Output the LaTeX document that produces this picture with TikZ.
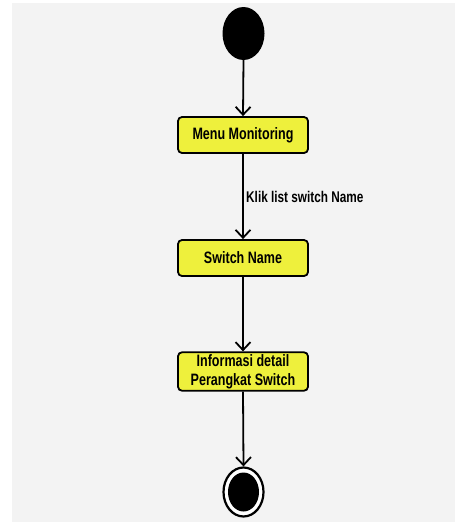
\documentclass[tikz,border=0pt]{standalone}
\usepackage{fontspec}
\setmainfont{Liberation Sans}[FakeStretch=0.76]
\usetikzlibrary{arrows.meta,shapes.geometric}
\definecolor{canvas}{HTML}{F3F3F3}
\definecolor{actfill}{HTML}{EEF03C}
\tikzset{
  activity/.style={draw=black, line width=1.8pt, fill=actfill, rounded corners=4pt,
    minimum width=130pt, minimum height=36pt, inner sep=2pt, align=center,
    font=\fontsize{16.5}{19}\selectfont\bfseries},
  flow/.style={draw=black, line width=1.8pt, -{Straight Barb[length=8pt,width=15pt,line width=1.8pt]}},
  startnode/.style={ellipse, fill=black, minimum width=42pt, minimum height=53pt, inner sep=0pt},
}
\begin{document}
\begin{tikzpicture}[x=1pt,y=-1pt]
  % page and canvas
  \useasboundingbox (0,0) rectangle (457,522);
  \fill[white] (0,0) rectangle (457,522);
  \fill[canvas] (12,3) rectangle (455,522);

  % initial state
  \node[startnode] (start) at (243.5,33.5) {};

  % activities
  \node[activity] (menu) at (243,135) {Menu Monitoring};
  \node[activity] (sw) at (243,258) {Switch Name};
  \node[activity] (info) at (243,371.5) {Informasi detail\\Perangkat Switch};

  % final state
  \node[ellipse, draw=black, line width=2.2pt, fill=white, minimum width=40pt, minimum height=49pt, inner sep=0pt] (end) at (243.5,492) {};
  \node[ellipse, fill=black, minimum width=31pt, minimum height=39pt, inner sep=0pt] (endcore) at (end.center) {};

  % control flows
  \draw[flow] (start.south) -- (menu.north);
  \draw[flow] (menu.south) -- node[right, xshift=-1pt, font=\fontsize{15.5}{18}\selectfont\bfseries] {Klik list switch Name} (sw.north);
  \draw[flow] (sw.south) -- (info.north);
  \draw[flow] (info.south) -- (end.north);
\end{tikzpicture}
\end{document}
